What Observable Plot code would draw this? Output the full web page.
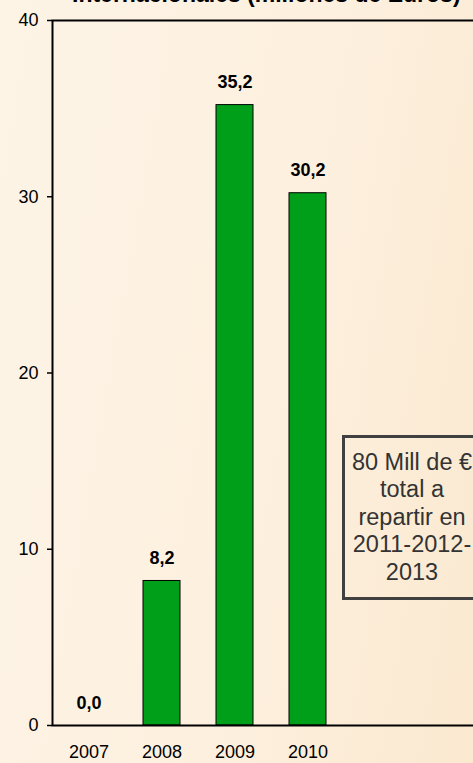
<!DOCTYPE html>
<html>
<head>
<meta charset="utf-8">
<script src="https://cdn.jsdelivr.net/npm/d3@7"></script>
<script src="https://cdn.jsdelivr.net/npm/@observablehq/plot@0.6"></script>
<style>
  html, body { margin: 0; padding: 0; overflow: hidden; }
  body {
    width: 473px; height: 763px; position: relative;
    background: linear-gradient(100deg, #fdf4e6 0%, #fdf0df 55%, #fbe9d0 100%);
    font-family: "Liberation Sans", Arial, sans-serif;
  }
  #title {
    position: absolute; left: 72px; top: -17px; white-space: nowrap;
    font-size: 23px; font-weight: bold; line-height: 1; color: #000;
  }
  #note {
    position: absolute; left: 342px; top: 435px; width: 134px; height: 159px;
    border: 3px solid #404040; color: #333;
    font-size: 23.5px; line-height: 27.5px; text-align: center;
    display: flex; align-items: center; justify-content: center;
  }
  #chart { position: absolute; left: 0; top: 0; }
</style>
</head>
<body>
<div id="chart"></div>
<div id="title"></div>
<div id="note"></div>
<script>
const titleText = "Internacionales (millones de Euros)";
const years = ["2007", "2008", "2009", "2010"];
const values = [0.0, 8.2, 35.2, 30.2];
const yTicks = [0, 10, 20, 30, 40];
const noteLines = ["80 Mill de €", "total a", "repartir en", "2011-2012-", "2013"];

const data = years.map((year, i) => ({year, value: values[i]}));
const fmt = v => v.toFixed(1).replace(".", ",");

document.getElementById("title").textContent = titleText;
document.getElementById("note").innerHTML = "<div>" + noteLines.map(s => s.replace(/&/g, "&amp;").replace(/</g, "&lt;")).join("<br>") + "</div>";

const chart = Plot.plot({
  width: 473,
  height: 763,
  marginTop: 20,
  marginBottom: 38,
  marginLeft: 52,
  marginRight: -12,
  style: {background: "transparent", fontFamily: "Liberation Sans, Arial, sans-serif", color: "#000"},
  x: {type: "band", domain: years, range: [52, 344], paddingInner: 0.5, paddingOuter: 0.25},
  y: {domain: [0, 40]},
  marks: [
    Plot.barY(data, {x: "year", y: "value", fill: "#009f1a", stroke: "#000", strokeWidth: 1}),
    Plot.frame({stroke: "#000", strokeWidth: 2}),
    Plot.text(data, {x: "year", y: "value", text: d => fmt(d.value), dy: -17, lineAnchor: "bottom", fontSize: 18, fontWeight: "bold", fill: "#000"}),
    Plot.axisY(yTicks, {tickSize: 5, tickPadding: 9, fontSize: 18, strokeWidth: 1.5, label: null, tickFormat: d => String(d)}),
    Plot.axisX(years, {tickSize: 0, tickPadding: 20, fontSize: 18, label: null})
  ]
});
document.getElementById("chart").appendChild(chart);
</script>
</body>
</html>
